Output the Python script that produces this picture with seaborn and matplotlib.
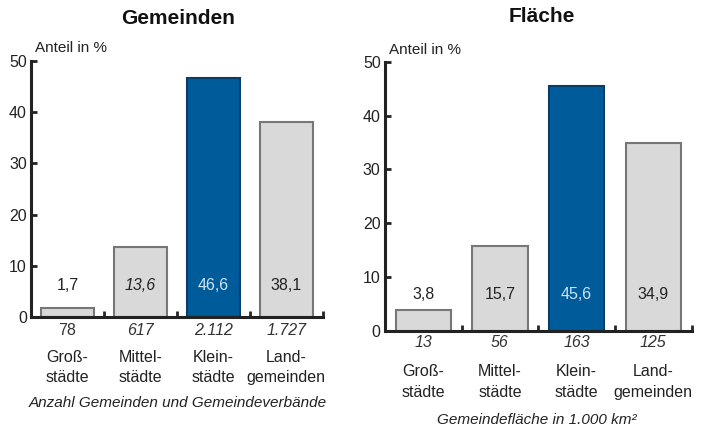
import matplotlib
matplotlib.use("Agg")
import matplotlib.pyplot as plt
import seaborn as sns
import pandas as pd

# data
categories = ["Groß-\nstädte", "Mittel-\nstädte", "Klein-\nstädte", "Land-\ngemeinden"]
share_gemeinden = [1.7, 13.6, 46.6, 38.1]
share_flaeche = [3.8, 15.7, 45.6, 34.9]
count_gemeinden = ["78", "617", "2.112", "1.727"]
area_flaeche = ["13", "56", "163", "125"]

GRAY = "#d9d9d9"
BLUE = "#005b9b"
palette = [GRAY, GRAY, BLUE, GRAY]

sns.set_style("white")
plt.rcParams["font.family"] = ["Liberation Sans", "DejaVu Sans"]

fig = plt.figure(figsize=(7.22, 4.33), dpi=100)
ax1 = fig.add_axes([0.043, 0.268, 0.404, 0.591])
ax2 = fig.add_axes([0.533, 0.236, 0.425, 0.621])


def draw_panel(ax, values, below, title, footnote, label_y, layout, italic_vals, italic_below):
    df = pd.DataFrame({"cat": categories, "val": values})
    sns.barplot(data=df, x="cat", y="val", hue="cat", palette=palette,
                legend=False, width=0.72, saturation=1, ax=ax)
    for patch, col in zip(ax.patches, palette):
        patch.set_edgecolor("#0a3d66" if col == BLUE else "#777777")
        patch.set_linewidth(1.5)

    ax.set_xlim(-0.5, 3.5)
    ax.set_ylim(0, 50)
    ax.set_xlabel("")
    ax.set_ylabel("")
    ax.set_yticks(range(0, 51, 10))
    ax.set_xticks([0.5, 1.5, 2.5, 3.5])
    ax.set_xticklabels([])
    ax.tick_params(axis="y", direction="in", length=4, width=2, pad=3,
                   labelsize=11.5, colors="#222222", left=True)
    ax.tick_params(axis="x", direction="in", length=4, width=2, bottom=True)
    sns.despine(ax=ax)
    for side in ["left", "bottom"]:
        ax.spines[side].set_linewidth(2.2)
        ax.spines[side].set_color("#222222")

    xt = ax.get_xaxis_transform()
    for i, (v, b) in enumerate(zip(values, below)):
        col = "#cfe3f5" if palette[i] == BLUE else "#222222"
        ax.text(i, label_y, f"{v:.1f}".replace(".", ","), ha="center", va="center",
                fontsize=11.5, color=col, style="italic" if i in italic_vals else "normal")
        ax.text(i, layout["count"], b, transform=xt, ha="center", va="center",
                fontsize=11.5, color="#333333",
                style="italic" if i in italic_below else "normal")
        ax.text(i, layout["cat"], categories[i], transform=xt, ha="center", va="center",
                fontsize=11.5, color="#222222", linespacing=1.45)

    ax.text(layout["foot_x"], layout["foot"], footnote, transform=ax.transAxes,
            ha="center", va="center", fontsize=11, style="italic", color="#222222")
    ax.text(layout["title_x"], layout["title"], title, transform=ax.transAxes,
            ha="center", va="center", fontsize=15, fontweight="bold", color="#111111")
    ax.text(0.012, layout["unit"], "Anteil in %", transform=ax.transAxes,
            ha="left", va="center", fontsize=11, color="#222222")


draw_panel(ax1, share_gemeinden, count_gemeinden, "Gemeinden",
           "Anzahl Gemeinden und Gemeindeverbände", 6.2,
           {"count": -0.051, "cat": -0.197, "foot": -0.336, "foot_x": 0.503,
            "title": 1.168, "title_x": 0.503, "unit": 1.05},
           italic_vals=[1], italic_below=[1, 2, 3])
draw_panel(ax2, share_flaeche, area_flaeche, "Fläche",
           "Gemeindefläche in 1.000 km²", 6.7,
           {"count": -0.045, "cat": -0.191, "foot": -0.331, "foot_x": 0.495,
            "title": 1.168, "title_x": 0.51, "unit": 1.045},
           italic_vals=[], italic_below=[0, 1, 2, 3])

fig.savefig("out.png", dpi=100, facecolor="white")
